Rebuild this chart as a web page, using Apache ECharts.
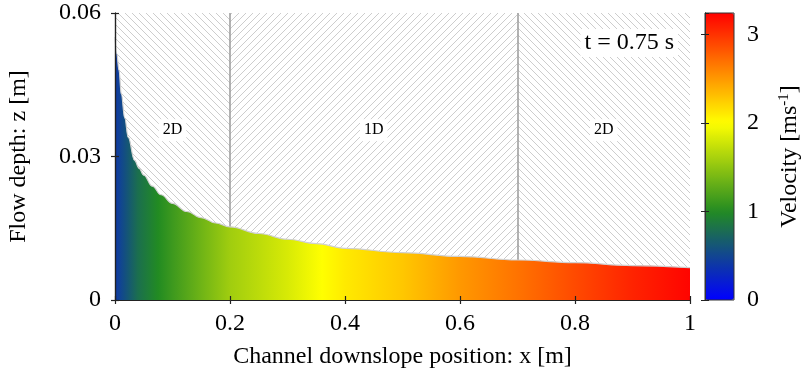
<!DOCTYPE html>
<html><head><meta charset="utf-8">
<script src="https://cdn.jsdelivr.net/npm/echarts@6/dist/echarts.min.js"></script>
<style>html,body{margin:0;padding:0;background:#fff}#c{width:801px;height:381px}</style>
</head><body><div id="c"></div>
<script>
// ---- Data ----
// Flow depth profile z(x) [m]
const depthX = [0, 0.003, 0.007, 0.011, 0.017, 0.023, 0.034, 0.042, 0.05, 0.065, 0.08, 0.1, 0.125, 0.15, 0.175, 0.2, 0.25, 0.3, 0.35, 0.4, 0.5, 0.6, 0.7, 0.8, 0.9, 1];
const depthZ = [0.055, 0.0515, 0.048, 0.043, 0.038, 0.034, 0.0292, 0.0275, 0.0261, 0.0238, 0.022, 0.0202, 0.0185, 0.0172, 0.0161, 0.0153, 0.0139, 0.0127, 0.0118, 0.0108, 0.0099, 0.0091, 0.00836, 0.0078, 0.0072, 0.00675];
// Depth-averaged velocity along the channel [m/s]
const velX = [0, 0.02, 0.04, 0.075, 0.1, 0.15, 0.2, 0.3, 0.36, 0.4, 0.5, 0.6, 0.7, 0.8, 0.9, 1.0];
const velV = [0.4, 0.6, 0.8, 1.0, 1.12, 1.35, 1.57, 1.82, 2.0, 2.1, 2.27, 2.5, 2.68, 2.88, 3.07, 3.22];
// Model regions
const regionBounds = [0, 0.2, 0.7, 1];
const regionNames = ['2D', '1D', '2D'];
const regionHatch = ['back', 'fwd', 'back'];
const regionLabelZ = 0.0355;
// Axes
const xTickLabels = ['0', '0.2', '0.4', '0.6', '0.8', '1'];
const yTickLabels = ['0', '0.03', '0.06'];
const velTickLabels = ['0', '1', '2', '3'];
const velMin = 0, velMax = 3.24;
const timeText = 't = 0.75 s';

// ---- Styles ----
const FONT = '"Liberation Serif", "Times New Roman", serif';
const cmapStops = [[0, [0, 0, 255]], [1, [34, 139, 34]], [2, [255, 255, 0]], [3.24, [255, 0, 0]]];
function cmap(v) {
  if (v <= cmapStops[0][0]) return rgb(cmapStops[0][1]);
  for (let i = 1; i < cmapStops.length; i++) {
    if (v <= cmapStops[i][0]) {
      const a = cmapStops[i - 1], b = cmapStops[i];
      const t = (v - a[0]) / (b[0] - a[0]);
      return rgb(a[1].map((c, k) => c + (b[1][k] - c) * t));
    }
  }
  return rgb(cmapStops[cmapStops.length - 1][1]);
}
function rgb(c) { return 'rgb(' + c.map(Math.round).join(',') + ')'; }
function makeHatch(dir) {
  const s = 7, cv = document.createElement('canvas');
  cv.width = s; cv.height = s;
  const ctx = cv.getContext('2d');
  ctx.fillStyle = '#fff'; ctx.fillRect(0, 0, s, s);
  ctx.strokeStyle = '#cdcdcd'; ctx.lineWidth = 1;
  ctx.beginPath();
  for (let k = -1; k <= 1; k++) {
    if (dir === 'back') { ctx.moveTo(k * s, 0); ctx.lineTo(k * s + s, s); }
    else { ctx.moveTo(k * s, s); ctx.lineTo(k * s + s, 0); }
  }
  ctx.stroke();
  return { image: cv, repeat: 'repeat' };
}
const mapColors = [];
for (let i = 0; i <= 40; i++) mapColors.push(cmap(velMin + (velMax - velMin) * i / 40));
const gradStops = velX.map((x, i) => ({ offset: x, color: cmap(velV[i]) }));

const axisLineStyle = { color: '#222', width: 1.2 };
const labelStyle = { fontFamily: FONT, fontSize: 24, color: '#000' };

const chart = echarts.init(document.getElementById('c'), null, { renderer: 'canvas' });
chart.setOption({
  animation: false,
  backgroundColor: '#fff',
  grid: [
    { left: 115, right: 111, top: 13, bottom: 81, containLabel: false, outerBoundsMode: 'none' },
    { left: 705, width: 29, top: 13, bottom: 81, containLabel: false, outerBoundsMode: 'none',
      show: true, borderColor: '#333', borderWidth: 1, backgroundColor: 'transparent', z: 10 }
  ],
  visualMap: {
    type: 'continuous', min: velMin, max: velMax, calculable: false, seriesIndex: 3,
    orient: 'vertical', left: 705, top: 13, padding: 0, itemWidth: 29, itemHeight: 287,
    inRange: { color: mapColors }, text: null, hoverLink: false, z: 4
  },
  xAxis: [
    { gridIndex: 0, type: 'value', min: 0, max: 1, interval: 0.2, position: 'bottom', z: 20,
      axisLine: { lineStyle: axisLineStyle }, axisTick: { inside: true, length: 4, lineStyle: axisLineStyle },
      splitLine: { show: false },
      axisLabel: Object.assign({ margin: 12, formatter: (v, i) => xTickLabels[i] }, labelStyle),
      name: 'Channel downslope position: x [m]', nameLocation: 'middle', nameGap: 45, nameTextStyle: labelStyle },
    { gridIndex: 0, type: 'value', min: 0, max: 1, interval: 0.2, position: 'top', z: 20,
      axisLine: { lineStyle: axisLineStyle }, axisTick: { inside: true, length: 4, lineStyle: axisLineStyle },
      splitLine: { show: false }, axisLabel: { show: false } },
    { gridIndex: 1, type: 'value', min: 0, max: 1, show: false }
  ],
  yAxis: [
    { gridIndex: 0, type: 'value', min: 0, max: 0.06, interval: 0.03, position: 'left', z: 20,
      axisLine: { lineStyle: axisLineStyle }, axisTick: { inside: true, length: 4, lineStyle: axisLineStyle },
      splitLine: { show: false },
      axisLabel: Object.assign({ margin: 14, formatter: (v, i) => yTickLabels[i] }, labelStyle),
      name: 'Flow depth: z [m]', nameLocation: 'middle', nameGap: 84, nameTextStyle: labelStyle },
    { gridIndex: 0, type: 'value', min: 0, max: 0.06, interval: 0.03, position: 'right', z: 20,
      axisLine: { lineStyle: axisLineStyle }, axisTick: { inside: true, length: 4, lineStyle: axisLineStyle },
      splitLine: { show: false }, axisLabel: { show: false } },
    { gridIndex: 1, type: 'value', min: velMin, max: velMax, interval: 1, position: 'right', z: 20,
      axisLine: { lineStyle: { color: '#333', width: 1 } },
      axisTick: { inside: true, length: 4, lineStyle: { color: '#222' } },
      splitLine: { show: false },
      axisLabel: Object.assign({ margin: 13, showMaxLabel: false, formatter: (v, i) => velTickLabels[i] }, labelStyle),
      name: 'Velocity [ms{sup|-1}]', nameLocation: 'middle', nameGap: 43,
      nameTextStyle: Object.assign({ rich: { sup: { fontFamily: FONT, fontSize: 15, verticalAlign: 'top', color: '#000', padding: [0, 0, 10, 0] } } }, labelStyle) },
    { gridIndex: 1, type: 'value', min: velMin, max: velMax, interval: 1, position: 'left', z: 20,
      axisLine: { lineStyle: { color: '#333', width: 1 } },
      axisTick: { inside: true, length: 4, lineStyle: { color: '#222' } },
      splitLine: { show: false }, axisLabel: { show: false } }
  ],
  series: [
    { // hatched regions + region boundaries
      type: 'line', xAxisIndex: 0, yAxisIndex: 0, z: 1, silent: true,
      data: [[0, 0.06], [1, 0.06]], showSymbol: false, lineStyle: { width: 0, opacity: 0 },
      markArea: {
        silent: true, label: { show: false },
        data: regionNames.map((n, i) => [
          { xAxis: regionBounds[i], yAxis: 0, itemStyle: { color: makeHatch(regionHatch[i]), opacity: 1 } },
          { xAxis: regionBounds[i + 1], yAxis: 0.06 }
        ])
      },
      markLine: {
        silent: true, symbol: ['none', 'none'], label: { show: false },
        lineStyle: { color: '#9a9a9a', width: 1.5, type: 'solid' },
        data: regionBounds.slice(1, -1).map(b => ({ xAxis: b }))
      }
    },
    { // flow depth coloured by velocity
      type: 'line', xAxisIndex: 0, yAxisIndex: 0, z: 10, silent: true,
      data: depthX.map((x, i) => [x, depthZ[i]]),
      showSymbol: false, smooth: 0.4, smoothMonotone: 'x',
      lineStyle: { color: '#d0d0d0', width: 1.2 },
      areaStyle: { color: new echarts.graphic.LinearGradient(0, 0, 1, 0, gradStops), opacity: 1 }
    },
    { // region labels
      type: 'scatter', xAxisIndex: 0, yAxisIndex: 0, z: 11, silent: true,
      symbolSize: 1, itemStyle: { color: 'rgba(0,0,0,0)' },
      data: regionNames.map((n, i) => ({ name: n, value: [(regionBounds[i] + regionBounds[i + 1]) / 2, regionLabelZ] })),
      label: { show: true, position: 'inside', formatter: '{b}', fontFamily: FONT, fontSize: 16, color: '#000',
        opacity: 1, textBorderWidth: 0, backgroundColor: '#fff', padding: [3, 4] }
    },
    { // carrier for the colour bar
      type: 'scatter', xAxisIndex: 2, yAxisIndex: 2, data: [], silent: true
    }
  ],
  graphic: [{
    type: 'text', z: 30, x: 678, y: 43,
    style: { text: timeText, font: '24px ' + FONT, fill: '#000', align: 'right', verticalAlign: 'middle',
      backgroundColor: '#fff', padding: [2, 4] }
  }]
});
</script></body></html>
